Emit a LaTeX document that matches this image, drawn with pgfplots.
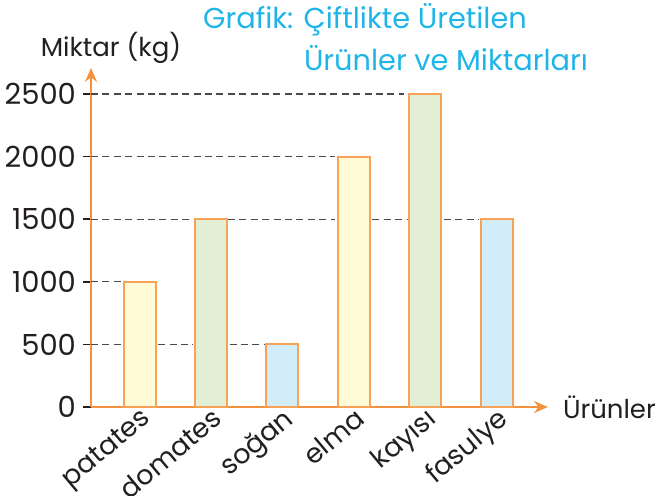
\documentclass[border=0pt]{standalone}
\usepackage{fontspec}
\setmainfont{Poppins}
\usepackage{pgfplots}
\pgfplotsset{compat=1.18}
\usetikzlibrary{arrows.meta}
\definecolor{axo}{HTML}{F5923E}
\definecolor{baro}{HTML}{F7A257}
\definecolor{fy}{HTML}{FFFBD6}
\definecolor{fg}{HTML}{E3EFD5}
\definecolor{fb}{HTML}{D3ECF9}
\definecolor{tc}{HTML}{1FB5E8}
\definecolor{txt}{HTML}{231F20}
\definecolor{dsh}{HTML}{4A4A4A}
\begin{document}
\begin{tikzpicture}
\useasboundingbox (-45.5pt,-44pt) rectangle (283.5pt,203.5pt);
\begin{axis}[
  at={(0,0)}, anchor=south west,
  x=35.7pt, y=0.0626pt,
  xmin=-0.68, xmax=5.72, ymin=0, ymax=2708,
  axis lines=left,
  axis line style={draw=axo, line width=1pt, -{Stealth[length=7pt,width=6pt]}},
  xtick={0,1,2,3,4,5},
  xticklabels={patates,domates,soğan,elma,kayısı,fasulye},
  xtick style={draw=none},
  xticklabel style={rotate=40, anchor=north east, inner sep=1pt, font=\fontsize{13.5pt}{16pt}\selectfont, text=txt},
  xticklabel shift=-6pt,
  ytick={0,500,1000,1500,2000,2500},
  ytick style={draw=txt, line width=0.8pt},
  major tick length=4pt,
  tick align=outside,
  yticklabel style={font=\fontsize{14.5pt}{16pt}\selectfont, text=txt},
  /pgf/number format/assume math mode=true,
  /pgf/number format/1000 sep={},
  clip=false,
]
\addplot[dsh, dashed, line width=0.65pt, dash pattern=on 3.5pt off 2.2pt, forget plot] coordinates {(-0.68,2500) (3.7,2500)};
\addplot[dsh, dashed, line width=0.65pt, dash pattern=on 3.5pt off 2.2pt, forget plot] coordinates {(-0.68,2000) (2.74,2000)};
\addplot[dsh, dashed, line width=0.65pt, dash pattern=on 3.5pt off 2.2pt, forget plot] coordinates {(-0.68,1500) (0.76,1500)};
\addplot[dsh, dashed, line width=0.65pt, dash pattern=on 3.5pt off 2.2pt, forget plot] coordinates {(1.24,1500) (2.74,1500)};
\addplot[dsh, dashed, line width=0.65pt, dash pattern=on 3.5pt off 2.2pt, forget plot] coordinates {(3.26,1500) (3.74,1500)};
\addplot[dsh, dashed, line width=0.65pt, dash pattern=on 3.5pt off 2.2pt, forget plot] coordinates {(4.26,1500) (4.74,1500)};
\addplot[dsh, dashed, line width=0.65pt, dash pattern=on 3.5pt off 2.2pt, forget plot] coordinates {(-0.68,1000) (-0.24,1000)};
\addplot[dsh, dashed, line width=0.65pt, dash pattern=on 3.5pt off 2.2pt, forget plot] coordinates {(-0.68,500) (-0.24,500)};
\addplot[dsh, dashed, line width=0.65pt, dash pattern=on 3.5pt off 2.2pt, forget plot] coordinates {(0.26,500) (0.74,500)};
\addplot[dsh, dashed, line width=0.65pt, dash pattern=on 3.5pt off 2.2pt, forget plot] coordinates {(1.26,500) (1.74,500)};
\addplot[ybar, bar width=16pt, bar shift=0pt, draw=baro, fill=fy, line width=1pt] coordinates {(0,1000) (3,2000)};
\addplot[ybar, bar width=16pt, bar shift=0pt, draw=baro, fill=fg, line width=1pt] coordinates {(1,1500) (4,2500)};
\addplot[ybar, bar width=16pt, bar shift=0pt, draw=baro, fill=fb, line width=1pt] coordinates {(2,500) (5,1500)};
\end{axis}
\node[text=tc, font=\fontsize{14.4pt}{16pt}\selectfont] at (137pt,193.5pt) {Grafik: Çiftlikte Üretilen};
\node[text=tc, font=\fontsize{14.4pt}{16pt}\selectfont] at (177.5pt,174.5pt) {Ürünler ve Miktarları};
\node[text=txt, font=\fontsize{13pt}{15pt}\selectfont] at (10pt,179.5pt) {Miktar (kg)};
\node[text=txt, font=\fontsize{13pt}{15pt}\selectfont, anchor=west] at (232.5pt,0pt) {Ürünler};
\end{tikzpicture}
\end{document}
